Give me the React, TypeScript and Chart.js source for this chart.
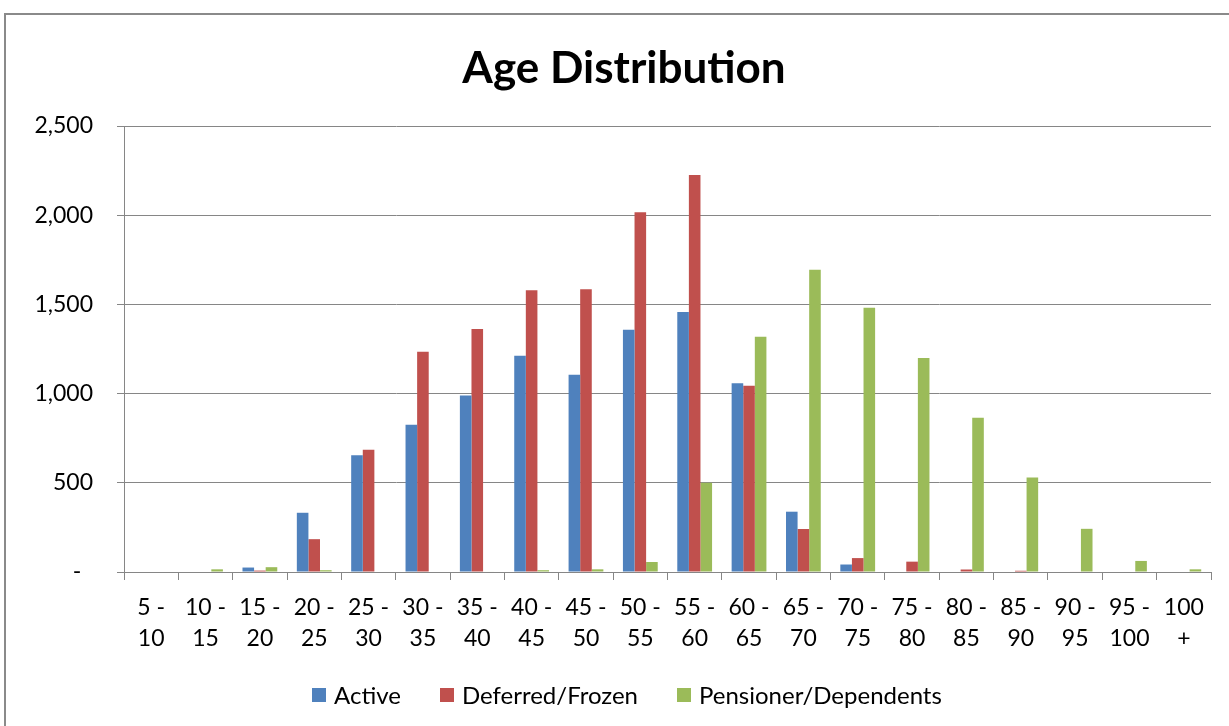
import React, { useEffect, useRef } from "react";
import { Chart, registerables } from "chart.js";

Chart.register(...registerables);

const chartTitle = "Age Distribution";

const categories: string[][] = [
  ["5 -", "10"], ["10 -", "15"], ["15 -", "20"], ["20 -", "25"], ["25 -", "30"],
  ["30 -", "35"], ["35 -", "40"], ["40 -", "45"], ["45 -", "50"], ["50 -", "55"],
  ["55 -", "60"], ["60 -", "65"], ["65 -", "70"], ["70 -", "75"], ["75 -", "80"],
  ["80 -", "85"], ["85 -", "90"], ["90 -", "95"], ["95 -", "100"], ["100", "+"],
];

const active: number[] = [0, 0, 25, 332, 655, 825, 990, 1212, 1105, 1358, 1458, 1058, 338, 42, 0, 0, 0, 0, 0, 0];
const deferred: number[] = [0, 0, 8, 184, 685, 1234, 1362, 1580, 1585, 2017, 2226, 1044, 241, 78, 58, 14, 7, 3, 0, 0];
const pensioner: number[] = [0, 15, 27, 10, 0, 0, 3, 10, 15, 56, 500, 1318, 1694, 1481, 1200, 865, 530, 242, 62, 15];

const seriesNames = ["Active", "Deferred/Frozen", "Pensioner/Dependents"];
const seriesColors = ["#4F81BD", "#C0504D", "#9BBB59"];
const yTicks = [0, 500, 1000, 1500, 2000, 2500];

const FONT = "Lato, 'Noto Sans', sans-serif";
const GRAY = "#868686";

export default function App() {
  const ref = useRef<HTMLCanvasElement | null>(null);

  useEffect(() => {
    if (!ref.current) return;
    const chart = new Chart(ref.current, {
      type: "bar",
      data: {
        labels: categories,
        datasets: [active, deferred, pensioner].map((d, i) => ({
          label: seriesNames[i],
          data: d,
          backgroundColor: seriesColors[i],
          borderWidth: 0,
          barPercentage: 1,
          categoryPercentage: 0.64,
        })),
      },
      options: {
        responsive: false,
        animation: false,
        layout: { padding: { left: 0, right: 18, top: 126, bottom: 72 } },
        plugins: {
          title: { display: false },
          legend: { display: false },
          tooltip: { enabled: false },
        },
        scales: {
          x: {
            afterFit: (scale: any) => {
              scale.height = 82;
            },
            grid: {
              display: true,
              drawOnChartArea: false,
              drawTicks: true,
              tickLength: 8,
              color: GRAY,
              offset: true,
            },
            border: { display: true, color: GRAY, width: 1 },
            ticks: {
              color: "#000",
              font: { family: FONT, size: 23, lineHeight: 1.35 },
              padding: 12.5,
              maxRotation: 0,
              autoSkip: false,
            },
          },
          y: {
            min: 0,
            max: 2500,
            afterFit: (scale: any) => {
              scale.width = 124;
            },
            afterBuildTicks: (scale: any) => {
              scale.ticks = yTicks.map((v) => ({ value: v }));
            },
            grid: {
              color: GRAY,
              lineWidth: 1,
              drawTicks: true,
              tickLength: 7,
            },
            border: { display: true, color: GRAY, width: 1 },
            ticks: {
              color: "#000",
              font: { family: FONT, size: 23 },
              padding: 24,
              callback: (v: any) => (Number(v) === 0 ? "-  " : Number(v).toLocaleString("en-US")),
            },
          },
        },
      },
    });
    return () => chart.destroy();
  }, []);

  return (
    <div
      style={{
        position: "fixed",
        left: 0,
        top: 0,
        width: 1229,
        height: 726,
        overflow: "hidden",
        background: "#fff",
      }}
    >
      <div
        style={{
          position: "absolute",
          left: 4,
          top: 13,
          width: 1300,
          height: 800,
          border: "2px solid #8a8a8a",
          boxSizing: "border-box",
        }}
      />
      <canvas ref={ref} width={1229} height={726} style={{ position: "absolute", left: 0, top: 0 }} />
      <div
        style={{
          position: "absolute",
          left: 0,
          top: 39.6,
          width: 1248,
          textAlign: "center",
          fontFamily: FONT,
          fontWeight: "bold",
          fontSize: 44,
          lineHeight: "52.8px",
          color: "#000",
          whiteSpace: "nowrap",
        }}
      >
        {chartTitle}
      </div>
      <div
        style={{
          position: "absolute",
          left: 312,
          top: 680,
          height: 30,
          display: "flex",
          alignItems: "center",
          fontFamily: FONT,
          fontSize: 24,
          color: "#000",
          whiteSpace: "nowrap",
        }}
      >
        {seriesNames.map((name, i) => (
          <div
            key={name}
            style={{ display: "flex", alignItems: "center", marginRight: i < seriesNames.length - 1 ? 39 : 0 }}
          >
            <span
              style={{ display: "inline-block", width: 14, height: 14, background: seriesColors[i], marginRight: 8 }}
            />
            <span style={{ lineHeight: 1 }}>{name}</span>
          </div>
        ))}
      </div>
    </div>
  );
}
